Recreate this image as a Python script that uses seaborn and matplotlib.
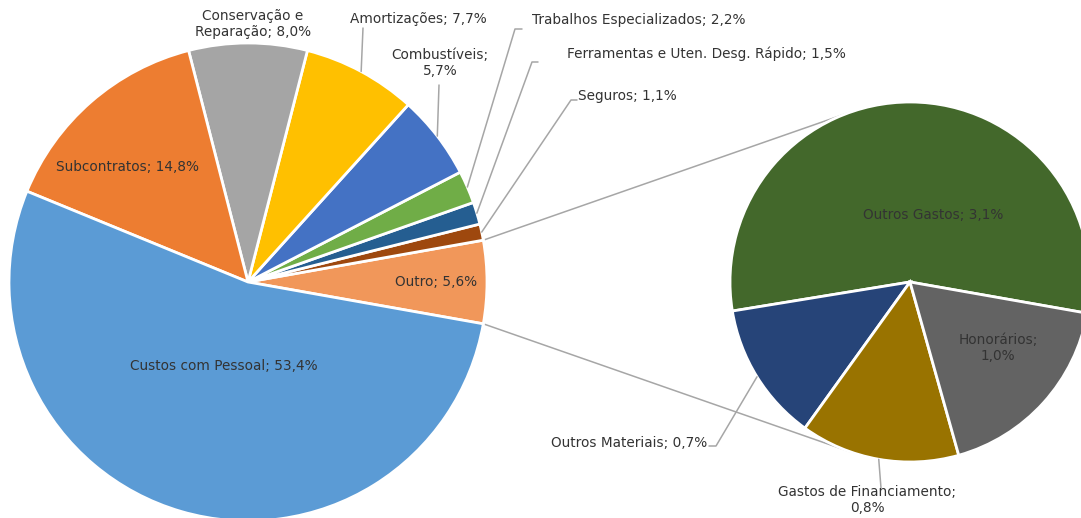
import numpy as np
import matplotlib
matplotlib.use('Agg')
import matplotlib.pyplot as plt
import seaborn as sns

# main pie (counter-clockwise, starting with "Outro" on the right)
main_labels = ['Outro', 'Seguros', 'Ferramentas e Uten. Desg. Rápido',
               'Trabalhos Especializados', 'Combustíveis', 'Amortizações',
               'Conservação e Reparação', 'Subcontratos', 'Custos com Pessoal']
main_values = [5.6, 1.1, 1.5, 2.2, 5.7, 7.7, 8.0, 14.8, 53.4]
main_colors = ['#F1975A', '#9E480E', '#255E91', '#70AD47', '#4472C4',
               '#FFC000', '#A5A5A5', '#ED7D31', '#5B9BD5']

# secondary pie (breakdown of "Outro")
sec_labels = ['Outros Gastos', 'Outros Materiais', 'Gastos de Financiamento', 'Honorários']
sec_values = [3.1, 0.7, 0.8, 1.0]
sec_colors = ['#43682B', '#264478', '#997300', '#636363']

W, H = 1081, 518
TXT = '#333333'
LINE = '#A6A6A6'

# label layout in pixel coords (x, y from top, ha, text with line breaks, leader corner)
main_layout = [
    (436, 282, 'center', 'Outro; 5,6%', None),
    (578, 96, 'left', 'Seguros; 1,1%', [(571, 100), (577, 100)]),
    (567, 54, 'left', 'Ferramentas e Uten. Desg. Rápido; 1,5%', [(532, 62), (538, 62)]),
    (532, 20, 'left', 'Trabalhos Especializados; 2,2%', [(515, 29), (522, 29)]),
    (440, 63, 'center', 'Combustíveis;\n5,7%', [(439, 85)]),
    (418, 19, 'center', 'Amortizações; 7,7%', [(363, 28)]),
    (253, 24, 'center', 'Conservação e\nReparação; 8,0%', None),
    (128, 167, 'center', 'Subcontratos; 14,8%', None),
    (224, 366, 'center', 'Custos com Pessoal; 53,4%', None),
]
sec_layout = [
    (933, 215, 'center', 'Outros Gastos; 3,1%', None),
    (707, 443, 'right', 'Outros Materiais; 0,7%', [(716, 446), (709, 446)]),
    (867, 500, 'center', 'Gastos de Financiamento;\n0,8%', [(881, 488)]),
    (998, 348, 'center', 'Honorários;\n1,0%', None),
]

sns.set_theme(style='white')
plt.rcParams['font.family'] = ['DejaVu Sans']

fig = plt.figure(figsize=(W / 100, H / 100), dpi=100)
ax = fig.add_axes([0, 0, 1, 1])

main_c, main_r = (248, H - 282), 239
sec_c, sec_r = (910, H - 282), 180
wp = dict(edgecolor='white', linewidth=2)

start = -main_values[0] * 3.6 / 2
w1, _ = ax.pie(main_values, colors=main_colors, startangle=start, center=main_c,
               radius=main_r, wedgeprops=wp)
w2, _ = ax.pie(sec_values, colors=sec_colors, startangle=-10, center=sec_c,
               radius=sec_r, wedgeprops=wp)
for w in list(w1) + list(w2):
    w.set_zorder(3)


def edge_point(c, r, ang):
    a = np.deg2rad(ang)
    return c[0] + r * np.cos(a), c[1] + r * np.sin(a)


def tangent(p, c, r, sign):
    dx, dy = c[0] - p[0], c[1] - p[1]
    d = np.hypot(dx, dy)
    phi = np.arctan2(dy, dx) + sign * np.arcsin(r / d)
    L = np.sqrt(d ** 2 - r ** 2)
    return p[0] + L * np.cos(phi), p[1] + L * np.sin(phi)


# connector lines between the two pies
top = edge_point(main_c, main_r, w1[0].theta2)
bot = edge_point(main_c, main_r, w1[0].theta1)
for p, s in [(top, 1), (bot, -1)]:
    t = tangent(p, sec_c, sec_r, s)
    ax.plot([p[0], t[0]], [p[1], t[1]], color=LINE, lw=1.1, zorder=1)


def draw_labels(wedges, c, r, layout):
    for w, (x, y, ha, txt, leader) in zip(wedges, layout):
        ax.text(x, H - y, txt, ha=ha, va='center', fontsize=9.8, color=TXT,
                linespacing=1.15, zorder=5)
        if leader:
            p = edge_point(c, r, (w.theta1 + w.theta2) / 2)
            xs = [p[0]] + [q[0] for q in leader]
            ys = [p[1]] + [H - q[1] for q in leader]
            ax.plot(xs, ys, color=LINE, lw=1.1, zorder=4)


draw_labels(w1, main_c, main_r, main_layout)
draw_labels(w2, sec_c, sec_r, sec_layout)

ax.set_xlim(0, W)
ax.set_ylim(0, H)
ax.set_aspect('equal')
ax.axis('off')
fig.savefig('out.png', dpi=100)
